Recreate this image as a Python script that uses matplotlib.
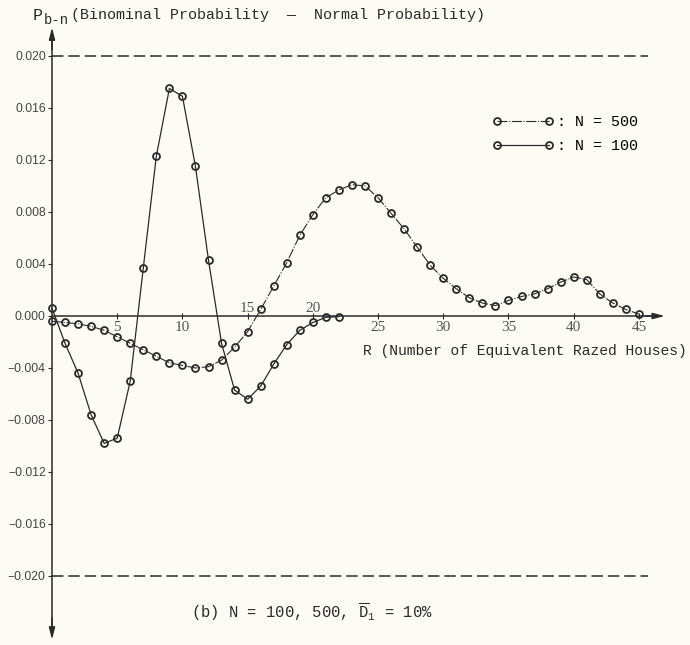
import matplotlib.pyplot as plt

# R values and (binomial - normal) probability differences
r_100 = list(range(0, 23))
p_100 = [0.0006, -0.0021, -0.0044, -0.0076, -0.0098, -0.0094, -0.0050, 0.0037,
         0.0123, 0.0175, 0.0169, 0.0115, 0.0043, -0.0021, -0.0057, -0.0064,
         -0.0054, -0.0037, -0.0022, -0.0011, -0.0005, -0.0001, -0.00005]

r_500 = list(range(0, 46))
p_500 = [-0.0004, -0.0005, -0.0006, -0.0008, -0.0011, -0.0016, -0.0021, -0.0026,
         -0.0031, -0.0036, -0.0038, -0.0040, -0.0039, -0.0034, -0.0024, -0.0012,
         0.0005, 0.0023, 0.0041, 0.0062, 0.0078, 0.0091, 0.0097, 0.0101,
         0.0100, 0.0091, 0.0079, 0.0067, 0.0053, 0.0039, 0.0029, 0.0021,
         0.0014, 0.0010, 0.0008, 0.0012, 0.0015, 0.0017, 0.0021, 0.0026,
         0.0030, 0.0028, 0.0017, 0.0010, 0.0005, 0.00015]

x_ticks = [5, 10, 15, 20, 25, 30, 35, 40, 45]
x_ticks_above = [15, 20]
y_ticks = [0.020, 0.016, 0.012, 0.008, 0.004, 0.0, -0.004, -0.008, -0.012, -0.016, -0.020]
limit = 0.020

W, H = 690, 645
BG = '#fdfcf4'
INK = '#2a2a2a'
MONO = 'Liberation Mono'
plt.rcParams['mathtext.fontset'] = 'custom'
plt.rcParams['mathtext.rm'] = MONO


def fx(px):
    return px / W


def fy(py):
    return 1 - py / H


fig = plt.figure(figsize=(W / 100, H / 100), dpi=100, facecolor=BG)
ax = fig.add_axes([fx(52), fy(641), (678 - 52) / W, (641 - 23.5) / H])
ax.set_facecolor(BG)
ax.set_xlim(0, 48)
ax.set_ylim(-0.025, 0.0225)

for s in ['top', 'right']:
    ax.spines[s].set_visible(False)
ax.spines['bottom'].set_position(('data', 0))
ax.spines['bottom'].set_bounds(0, 46.5)
ax.spines['left'].set_bounds(-0.0240, 0.0214)
for s in ['bottom', 'left']:
    ax.spines[s].set_color(INK)
    ax.spines[s].set_linewidth(1.1)

arrow = dict(arrowstyle='-|>,head_width=0.18,head_length=0.7', color=INK,
             lw=1.1, shrinkA=0, shrinkB=0)
ax.annotate('', xy=(47.0, 0), xytext=(45.5, 0), arrowprops=arrow, annotation_clip=False)
ax.annotate('', xy=(0, 0.0222), xytext=(0, 0.0205), arrowprops=arrow, annotation_clip=False)
ax.annotate('', xy=(0, -0.0249), xytext=(0, -0.0232), arrowprops=arrow, annotation_clip=False)

# reference lines at +/- 0.020
for v in [limit, -limit]:
    ax.plot([0, 45.7], [v, v], color=INK, lw=1.1, dashes=(7.5, 3.2))

# curves
ax.plot(r_500, p_500, color=INK, lw=0.8, linestyle=(0, (9, 1.5, 1, 1.5)),
        marker='o', ms=5, mfc='none', mec=INK, mew=1.3, clip_on=False,
        label=': N = 500')
ax.plot(r_100, p_100, color=INK, lw=0.9, linestyle='-',
        marker='o', ms=5, mfc='none', mec=INK, mew=1.3, clip_on=False,
        label=': N = 100')

# ticks
ax.set_xticks(x_ticks)
ax.set_xticklabels([])
ax.tick_params(axis='x', direction='inout', length=4, color=INK)
ax.set_yticks(y_ticks)
ax.set_yticklabels([f'{v:.3f}'.replace('-', '\u2212') for v in y_ticks],
                   fontfamily='Liberation Sans', fontsize=8.8, color='#444')
ax.tick_params(axis='y', direction='out', length=3, pad=1.5, color=INK)

for t in x_ticks:
    if t in x_ticks_above:
        ax.text(t, 0.0006, str(t), ha='center', va='center', fontsize=11,
                fontfamily='Liberation Serif', color='#555')
    else:
        ax.text(t, -0.00085, str(t), ha='center', va='center', fontsize=11,
                fontfamily='Liberation Serif', color='#555')

# axis labels and caption
fig.text(fx(687), fy(351), 'R (Number of Equivalent Razed Houses)', ha='right',
         va='center', fontsize=10.5, fontfamily=MONO, color=INK)
fig.text(fx(33), fy(15), 'P', ha='left', va='center', fontsize=12,
         fontfamily=MONO, color=INK)
fig.text(fx(44), fy(20), 'b-n', ha='left', va='center', fontsize=10,
         fontfamily=MONO, color=INK)
fig.text(fx(71), fy(15), '(Binominal Probability  \u2014  Normal Probability)',
         ha='left', va='center', fontsize=10.8, fontfamily=MONO, color=INK)
fig.text(fx(191), fy(612), r'(b) N = 100, 500, $\overline{\mathrm{D}}_{1}$ = 10%',
         ha='left', va='center', fontsize=11.2, fontfamily=MONO, color=INK)

ax.legend(loc='upper left', bbox_to_anchor=(fx(492), fy(115)),
          bbox_transform=fig.transFigure, frameon=False, numpoints=2,
          handlelength=4.1, handletextpad=0.25, borderpad=0, borderaxespad=0,
          labelspacing=0.65, prop={'family': MONO, 'size': 10.8})

fig.savefig('out.png', dpi=100, facecolor=BG)
